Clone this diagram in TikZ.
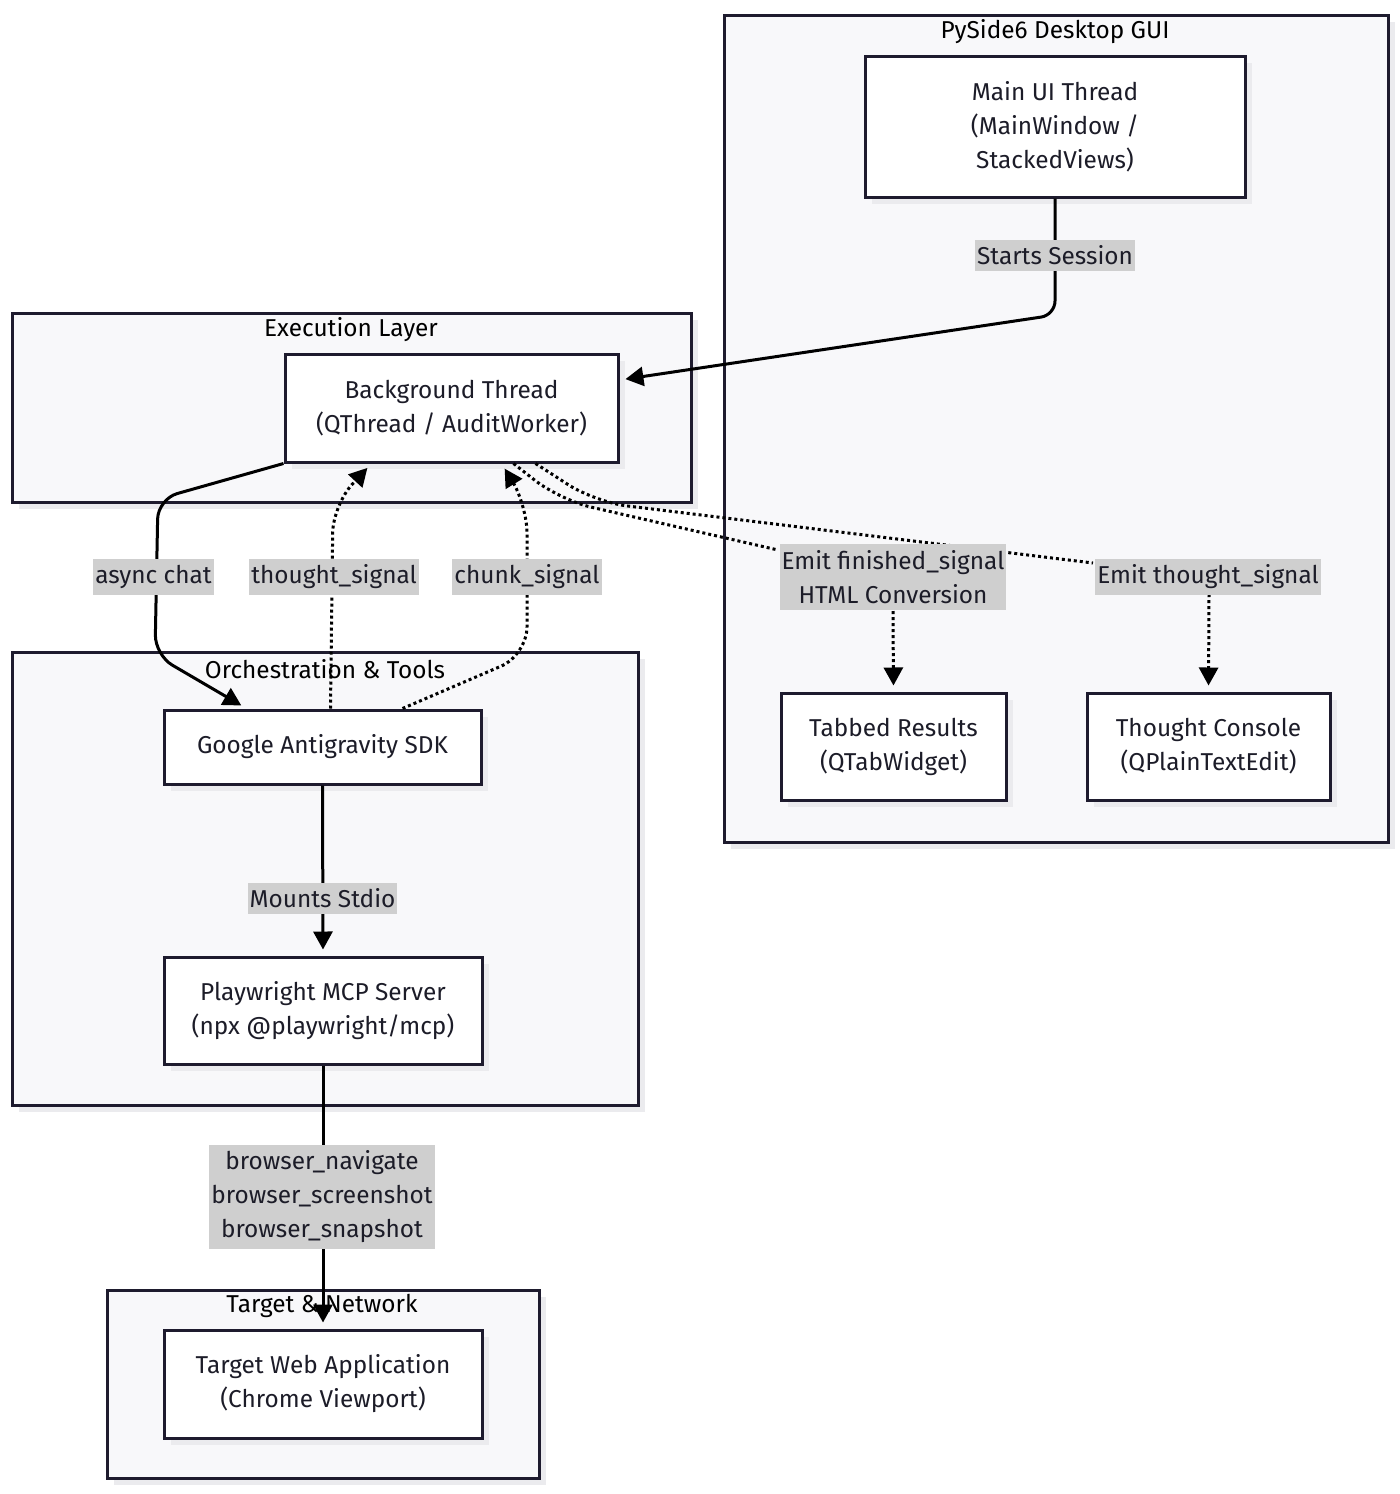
\documentclass[tikz,border=0pt]{standalone}
\usepackage{fontspec}
\setmainfont{Fira Sans}
\usetikzlibrary{arrows.meta,shadows,calc}
\definecolor{ink}{HTML}{1E1B2E}
\definecolor{txt}{HTML}{1C1C28}
\definecolor{clfill}{HTML}{F8F8FA}
\definecolor{lblgray}{HTML}{CFCFCF}
\definecolor{shade}{HTML}{EBEBEE}
\tikzset{
  cluster/.style={draw=ink, line width=1.5pt, fill=clfill, inner sep=0pt,
    drop shadow={shadow xshift=3.5pt, shadow yshift=-3.5pt, fill=shade, opacity=1}},
  cltitle/.style={text=black, font=\fontsize{12.2}{17}\selectfont, inner sep=0pt},
  box/.style={draw=ink, line width=1.5pt, fill=white, align=center, text=txt,
    font=\fontsize{12.2}{17}\selectfont, inner sep=0pt,
    drop shadow={shadow xshift=3.5pt, shadow yshift=-3.5pt, fill=shade, opacity=1}},
  lbl/.style={fill=lblgray, text=txt, align=center, inner xsep=1pt, inner ysep=3pt,
    font=\fontsize{12.2}{17}\selectfont},
  conn/.style={draw=black, line width=1.5pt, rounded corners=7pt},
  arr/.style={conn, -{Triangle[length=9pt,width=9.5pt]}, shorten >=3pt},
  darr/.style={arr, dash pattern=on 1.5pt off 1.5pt},
  dline/.style={conn, dash pattern=on 1.5pt off 1.5pt},
}
\begin{document}
\begin{tikzpicture}[x=0.5pt,y=-0.5pt]
\useasboundingbox[fill=white] (0,0) rectangle (1400,1494);
% clusters
\node[cluster, minimum width=332pt, minimum height=413.5pt] (gui) at (1056,428.5) {};
\node[cluster, minimum width=339.5pt, minimum height=94.5pt] (exec) at (351.5,407.5) {};
\node[cluster, minimum width=313pt, minimum height=226.5pt] (orch) at (325,878.5) {};
\node[cluster, minimum width=216pt, minimum height=94pt] (tgt) at (323,1384) {};
\node[cltitle] (guiT) at (1055,32) {PySide6 Desktop GUI};
\node[cltitle] (execT) at (351,330) {Execution Layer};
\node[cltitle] (orchT) at (325,669) {Orchestration \& Tools};
\node[cltitle] (tgtT) at (322,1306) {Target \& Network};
% nodes
\node[box, minimum width=190pt, minimum height=70.5pt] (main) at (1055,126.5) {Main UI Thread\\(MainWindow /\\StackedViews)};
\node[box, minimum width=166.5pt, minimum height=54pt] (bt) at (451.5,408) {Background Thread\\(QThread / AuditWorker)};
\node[box, minimum width=158.5pt, minimum height=37pt] (sdk) at (322.5,747) {Google Antigravity SDK};
\node[box, minimum width=159pt, minimum height=53.5pt] (pw) at (323,1010.5) {Playwright MCP Server\\(npx @playwright/mcp)};
\node[box, minimum width=159pt, minimum height=54pt] (web) at (323,1384) {Target Web Application\\(Chrome Viewport)};
\node[box, minimum width=112.5pt, minimum height=53.5pt] (tab) at (893.5,746.5) {Tabbed Results\\(QTabWidget)};
\node[box, minimum width=121.5pt, minimum height=53.5pt] (con) at (1208.5,746.5) {Thought Console\\(QPlainTextEdit)};
% connectors
\draw[arr] (main.south) -- (1055,315) -- ([yshift=14pt]bt.east);
\draw[arr, rounded corners=10pt] (bt.south west) -- (158,499) -- (155,655) -- ([xshift=42pt]sdk.north west);
\draw[darr, rounded corners=14pt] ([xshift=4pt]sdk.north) -- (333,505) -- ([xshift=-40pt]bt.south);
\draw[darr, rounded corners=14pt] ([xshift=40pt]sdk.north) -- (527,655) -- (527,505) -- ([xshift=25pt]bt.south);
\draw[dline, rounded corners=16pt] ([xshift=31pt]bt.south) -- (560,500) -- (778,550);
\draw[dline, rounded corners=16pt] ([xshift=42pt]bt.south) -- (595,502) -- (1093,563);
\draw[darr] (893,611) -- (tab.north);
\draw[darr] (1209,594) -- (con.north);
\draw[arr] (sdk.south) -- (pw.north);
\draw[arr] (pw.south) -- (web.north);
% edge labels
\node[lbl] (lStart) at (1055,255.5) {Starts Session};
\node[lbl] (lAsync) at (153.5,577) {async chat};
\node[lbl] (lThought) at (334,577) {thought\_signal};
\node[lbl] (lChunk) at (527,577) {chunk\_signal};
\node[lbl] (lFin) at (893,577) {Emit finished\_signal\\HTML Conversion};
\node[lbl] (lEmitT) at (1208,577) {Emit thought\_signal};
\node[lbl] (lMount) at (322.5,898.5) {Mounts Stdio};
\node[lbl] (lBrowser) at (322,1197) {browser\_navigate\\browser\_screenshot\\browser\_snapshot};
\end{tikzpicture}
\end{document}
